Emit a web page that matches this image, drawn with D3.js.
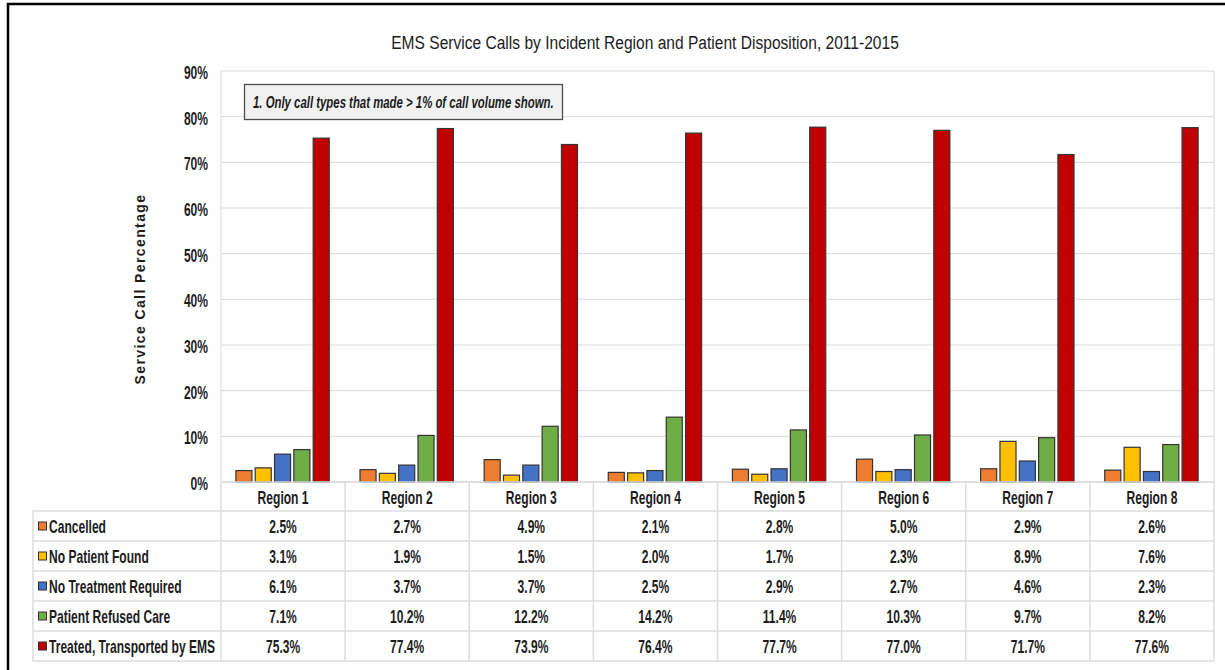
<!DOCTYPE html>
<html>
<head>
<meta charset="utf-8">
<script src="https://cdn.jsdelivr.net/npm/d3@7"></script>
<style>
  html, body { margin: 0; padding: 0; background: #fff; }
  svg { display: block; }
  text { font-family: "Liberation Sans", Arial, sans-serif; }
</style>
</head>
<body>
<svg id="chart" width="1225" height="670"></svg>
<script>
// Regions along the x axis
const regions = ["Region 1", "Region 2", "Region 3", "Region 4", "Region 5", "Region 6", "Region 7", "Region 8"];

// Disposition series (percent of service calls)
const seriesNames = ["Cancelled", "No Patient Found", "No Treatment Required", "Patient Refused Care", "Treated, Transported by EMS"];
const cancelled = [2.5, 2.7, 4.9, 2.1, 2.8, 5.0, 2.9, 2.6];
const noPatientFound = [3.1, 1.9, 1.5, 2.0, 1.7, 2.3, 8.9, 7.6];
const noTreatmentRequired = [6.1, 3.7, 3.7, 2.5, 2.9, 2.7, 4.6, 2.3];
const patientRefusedCare = [7.1, 10.2, 12.2, 14.2, 11.4, 10.3, 9.7, 8.2];
const treatedTransported = [75.3, 77.4, 73.9, 76.4, 77.7, 77.0, 71.7, 77.6];
const seriesColors = ["#ED7D31", "#FFC000", "#4472C4", "#70AD47", "#C00000"];

// Y axis ticks
const yTicks = [0, 10, 20, 30, 40, 50, 60, 70, 80, 90];

const titleText = "EMS Service Calls by Incident Region and Patient Disposition, 2011-2015";
const noteText = "1. Only call types that made > 1% of call volume shown.";
const yTitle = "Service Call Percentage";

const seriesValues = [cancelled, noPatientFound, noTreatmentRequired, patientRefusedCare, treatedTransported];
const series = seriesNames.map((name, i) => ({ name, color: seriesColors[i], values: seriesValues[i] }));

// Horizontal squeeze used to get a condensed typeface look
const NARROW = 0.67;
const TITLE_NARROW = 0.82;
const ink = "#1c1c1c";

const svg = d3.select("#chart");

// Places a text element at (x, y) and compresses it horizontally
function condensed(sel, x, y, sx) {
  return sel.attr("x", 0).attr("y", 0)
    .attr("transform", (d, i) => {
      const xx = typeof x === "function" ? x(d, i) : x;
      const yy = typeof y === "function" ? y(d, i) : y;
      return `translate(${xx},${yy}) scale(${sx},1)`;
    });
}

// Outer frame
svg.append("rect")
  .attr("x", 8).attr("y", 4).attr("width", 1240).attr("height", 700)
  .attr("fill", "none").attr("stroke", "#000").attr("stroke-width", 2.5);

const plot = { left: 221, right: 1214, top: 71, bottom: 482 };

const x0 = d3.scaleBand().domain(regions).range([plot.left, plot.right]).padding(0);
const bw = x0.bandwidth();
const x1 = d3.scaleBand().domain(seriesNames)
  .range([bw * 0.12, bw * 0.872]).paddingInner(0.17).paddingOuter(0);
const y = d3.scaleLinear().domain([0, 90]).range([plot.bottom, plot.top]);

// Title
condensed(svg.append("text"), 645, 49, TITLE_NARROW)
  .attr("text-anchor", "middle")
  .attr("font-size", 19).attr("fill", ink)
  .text(titleText);

// Gridlines
svg.append("g").selectAll("line").data(yTicks).join("line")
  .attr("x1", plot.left).attr("x2", plot.right)
  .attr("y1", d => y(d)).attr("y2", d => y(d))
  .attr("stroke", "#d9d9d9").attr("stroke-width", 1);

// Plot area side borders
svg.append("line").attr("x1", plot.left).attr("x2", plot.left).attr("y1", plot.top).attr("y2", plot.bottom)
  .attr("stroke", "#d9d9d9");
svg.append("line").attr("x1", plot.right).attr("x2", plot.right).attr("y1", plot.top).attr("y2", plot.bottom)
  .attr("stroke", "#d9d9d9");

// Y axis labels
const yAxis = d3.axisLeft(y).tickValues(yTicks).tickFormat(d => d + "%").tickSize(0).tickPadding(13);
const gy = svg.append("g").attr("transform", `translate(${plot.left},0)`).call(yAxis);
gy.select(".domain").remove();
gy.selectAll("text")
  .attr("x", -13 / NARROW).attr("transform", `scale(${NARROW},1)`)
  .attr("font-family", "Liberation Sans, Arial, sans-serif")
  .attr("font-size", 18).attr("font-weight", "bold")
  .attr("fill", ink).attr("dy", "0.42em");

// Y axis title
svg.append("text")
  .attr("transform", "translate(145,289) rotate(-90)")
  .attr("text-anchor", "middle")
  .attr("font-size", 14).attr("font-weight", "bold").attr("letter-spacing", 1.4)
  .attr("fill", ink)
  .text(yTitle);

// Bars
const groups = svg.append("g").selectAll("g").data(regions).join("g")
  .attr("transform", d => `translate(${x0(d)},0)`);
groups.selectAll("rect")
  .data((r, ri) => series.map(s => ({ name: s.name, color: s.color, value: s.values[ri] })))
  .join("rect")
  .attr("x", d => x1(d.name))
  .attr("width", x1.bandwidth())
  .attr("y", d => y(d.value))
  .attr("height", d => y(0) - y(d.value))
  .attr("fill", d => d.color)
  .attr("stroke", "#333").attr("stroke-width", 1.2);

// Note box
const note = svg.append("g");
note.append("rect").attr("x", 244.5).attr("y", 84.5).attr("width", 318).attr("height", 35)
  .attr("fill", "#f1f1f1").attr("stroke", "#4d4d4d").attr("stroke-width", 1.3);
condensed(note.append("text"), 253, 108, NARROW)
  .attr("font-size", 17).attr("font-style", "italic").attr("font-weight", "bold").attr("fill", ink)
  .text(noteText);

// Data table below the plot
const tableLeft = 33;
const headerBottom = 511;
const rowH = 30;
const rowTops = series.map((s, i) => headerBottom + i * rowH);
const tableBottom = headerBottom + series.length * rowH;
const grid = "#dcdcdc";

// Horizontal table lines
svg.append("line").attr("x1", plot.left).attr("x2", plot.right).attr("y1", plot.bottom).attr("y2", plot.bottom)
  .attr("stroke", grid).attr("stroke-width", 1.5);
svg.append("g").selectAll("line").data(d3.range(series.length + 1)).join("line")
  .attr("x1", tableLeft).attr("x2", plot.right)
  .attr("y1", i => headerBottom + i * rowH).attr("y2", i => headerBottom + i * rowH)
  .attr("stroke", grid).attr("stroke-width", 1.5);
// Vertical table lines
svg.append("g").selectAll("line").data(regions.concat(["end"])).join("line")
  .attr("x1", (d, i) => plot.left + i * bw).attr("x2", (d, i) => plot.left + i * bw)
  .attr("y1", plot.bottom).attr("y2", tableBottom)
  .attr("stroke", grid).attr("stroke-width", 1.5);
svg.append("line").attr("x1", tableLeft).attr("x2", tableLeft).attr("y1", headerBottom).attr("y2", tableBottom)
  .attr("stroke", grid).attr("stroke-width", 1.5);

// Region headers
condensed(svg.append("g").selectAll("text").data(regions).join("text"),
    d => x0(d) + bw / 2, (plot.bottom + headerBottom) / 2 + 1, NARROW)
  .attr("dy", "0.36em").attr("text-anchor", "middle")
  .attr("font-size", 18).attr("font-weight", "bold").attr("fill", ink)
  .text(d => d);

// Row legend keys, labels and values
const rows = svg.append("g").selectAll("g").data(series).join("g")
  .attr("transform", (d, i) => `translate(0,${rowTops[i] + rowH / 2})`);
rows.append("rect").attr("x", 38.5).attr("y", -4).attr("width", 8).attr("height", 8)
  .attr("fill", d => d.color).attr("stroke", "#333").attr("stroke-width", 1);
condensed(rows.append("text"), 49, 1, NARROW)
  .attr("dy", "0.36em")
  .attr("font-size", 18).attr("font-weight", "bold").attr("fill", ink)
  .text(d => d.name);
condensed(rows.selectAll("text.val").data(d => d.values).join("text").attr("class", "val"),
    (v, i) => x0(regions[i]) + bw / 2, 1, NARROW)
  .attr("dy", "0.36em").attr("text-anchor", "middle")
  .attr("font-size", 18).attr("font-weight", "bold").attr("fill", ink)
  .text(v => v.toFixed(1) + "%");
</script>
</body>
</html>
